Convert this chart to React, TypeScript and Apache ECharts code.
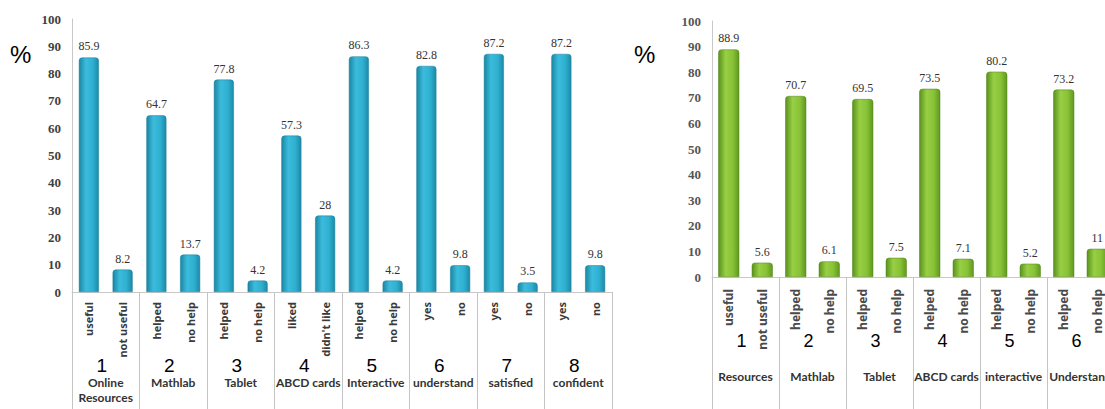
import React, { useEffect, useRef } from "react";
import * as echarts from "echarts";

const leftCategories = ["useful", "not useful", "helped", "no help", "helped", "no help", "liked", "didn't like", "helped", "no help", "yes", "no", "yes", "no", "yes", "no"];
const leftValues = [85.9, 8.2, 64.7, 13.7, 77.8, 4.2, 57.3, 28, 86.3, 4.2, 82.8, 9.8, 87.2, 3.5, 87.2, 9.8];
const leftGroupNumbers = ["1", "2", "3", "4", "5", "6", "7", "8"];
const leftGroupNames = ["Online\nResources", "Mathlab", "Tablet", "ABCD cards", "Interactive", "understand", "satisfied", "confident"];

const rightCategories = ["useful", "not useful", "helped", "no help", "helped", "no help", "helped", "no help", "helped", "no help", "helped", "no help"];
const rightValues = [88.9, 5.6, 70.7, 6.1, 69.5, 7.5, 73.5, 7.1, 80.2, 5.2, 73.2, 11];
const rightGroupNumbers = ["1", "2", "3", "4", "5", "6"];
const rightGroupNames = ["Resources", "Mathlab", "Tablet", "ABCD cards", "interactive", "Understand"];

const yMin = 0;
const yMax = 100;
const yInterval = 10;

function groupLabel(nums: string[], names: string[]) {
  return (_v: string, i: number) =>
    `{n|${nums[i]}}\n` + names[i].split("\n").map((s) => `{t|${s}}`).join("\n");
}

export default function App() {
  const ref = useRef<HTMLDivElement>(null);
  useEffect(() => {
    if (!ref.current) return;
    const chart = echarts.init(ref.current, null, { renderer: "svg" });
    const blue = new echarts.graphic.LinearGradient(0, 0, 1, 0, [
      { offset: 0, color: "#1a86a3" },
      { offset: 0.35, color: "#3cbcdc" },
      { offset: 0.7, color: "#2fb0d1" },
      { offset: 1, color: "#1d89a6" },
    ]);
    const green = new echarts.graphic.LinearGradient(0, 0, 1, 0, [
      { offset: 0, color: "#5a921c" },
      { offset: 0.35, color: "#98cf44" },
      { offset: 0.7, color: "#88c236" },
      { offset: 1, color: "#5f981f" },
    ]);
    const yAxisBase = (grid: number, color: string) => ({
      gridIndex: grid,
      type: "value",
      min: yMin,
      max: yMax,
      interval: yInterval,
      axisLine: { show: true, lineStyle: { color: "#c8c8c8" } },
      axisTick: { show: false },
      splitLine: { show: false },
      axisLabel: {
        margin: 11,
        fontFamily: "Liberation Serif",
        fontWeight: "bold",
        fontSize: 13,
        color,
      },
    });
    const catAxis = (grid: number, cats: string[], margin: number, fontSize: number, color: string) => ({
      gridIndex: grid,
      type: "category",
      data: cats.map((_, i) => String(i)),
      axisLine: { show: true, lineStyle: { color: "#c8c8c8" } },
      axisTick: { show: false },
      axisLabel: {
        interval: 0,
        rotate: 90,
        margin,
        formatter: (v: string) => cats[Number(v)],
        fontFamily: "Noto Sans",
        fontWeight: "bold",
        fontSize,
        color,
      },
    });
    const groupAxis = (grid: number, nums: string[], names: string[], margin: number, tickLen: number, nameLH: number, numSize: number) => ({
      gridIndex: grid,
      type: "category",
      position: "bottom",
      offset: 0,
      data: nums,
      axisLine: { show: false },
      axisTick: { show: true, length: tickLen, lineStyle: { color: "#c4c4c4" } },
      axisLabel: {
        interval: 0,
        margin,
        hideOverlap: false,
        formatter: groupLabel(nums, names),
        rich: {
          n: { fontFamily: "Liberation Sans", fontSize: numSize, color: "#000", lineHeight: 20, padding: [0, 8, 0, 0] },
          t: { fontFamily: "Lato", fontWeight: "bold", fontSize: 12, color: "#333", lineHeight: nameLH },
        },
      },
    });
    const valueLabel = {
      show: true,
      position: "top",
      distance: 5,
      fontFamily: "Liberation Serif",
      fontSize: 12,
      color: "#333",
    };
    chart.setOption({
      animation: false,
      grid: [
        { left: 72, top: 19, width: 540, height: 273 },
        { left: 712, top: 21, width: 402, height: 256 },
      ],
      xAxis: [
        catAxis(0, leftCategories, 10, 11, "#3a3a3a"),
        groupAxis(0, leftGroupNumbers, leftGroupNames, 63, 118, 15, 19),
        catAxis(1, rightCategories, 12, 12, "#4a4a4a"),
        groupAxis(1, rightGroupNumbers, rightGroupNames, 54, 133, 50, 18),
      ],
      yAxis: [yAxisBase(0, "#404040"), yAxisBase(1, "#555")],
      graphic: [
        { type: "text", left: 10, top: 42, style: { text: "%", fontFamily: "Liberation Sans", fontSize: 24, fill: "#000" } },
        { type: "text", left: 634, top: 42, style: { text: "%", fontFamily: "Liberation Sans", fontSize: 24, fill: "#000" } },
      ],
      series: [
        {
          type: "bar",
          xAxisIndex: 0,
          yAxisIndex: 0,
          data: leftValues,
          barWidth: 20,
          itemStyle: { color: blue, borderColor: "#1b7f99", borderWidth: 0.5, borderRadius: [3, 3, 0, 0] },
          label: valueLabel,
        },
        {
          type: "bar",
          xAxisIndex: 2,
          yAxisIndex: 1,
          data: rightValues,
          barWidth: 21,
          itemStyle: { color: green, borderColor: "#4f8418", borderWidth: 0.5, borderRadius: [3, 3, 0, 0] },
          label: valueLabel,
        },
      ],
    });
    return () => chart.dispose();
  }, []);
  return (
    <div style={{ position: "fixed", left: 0, top: 0, width: 1105, height: 409, overflow: "hidden", background: "#fff" }}>
      <div ref={ref} style={{ width: 1120, height: 409 }} />
    </div>
  );
}
